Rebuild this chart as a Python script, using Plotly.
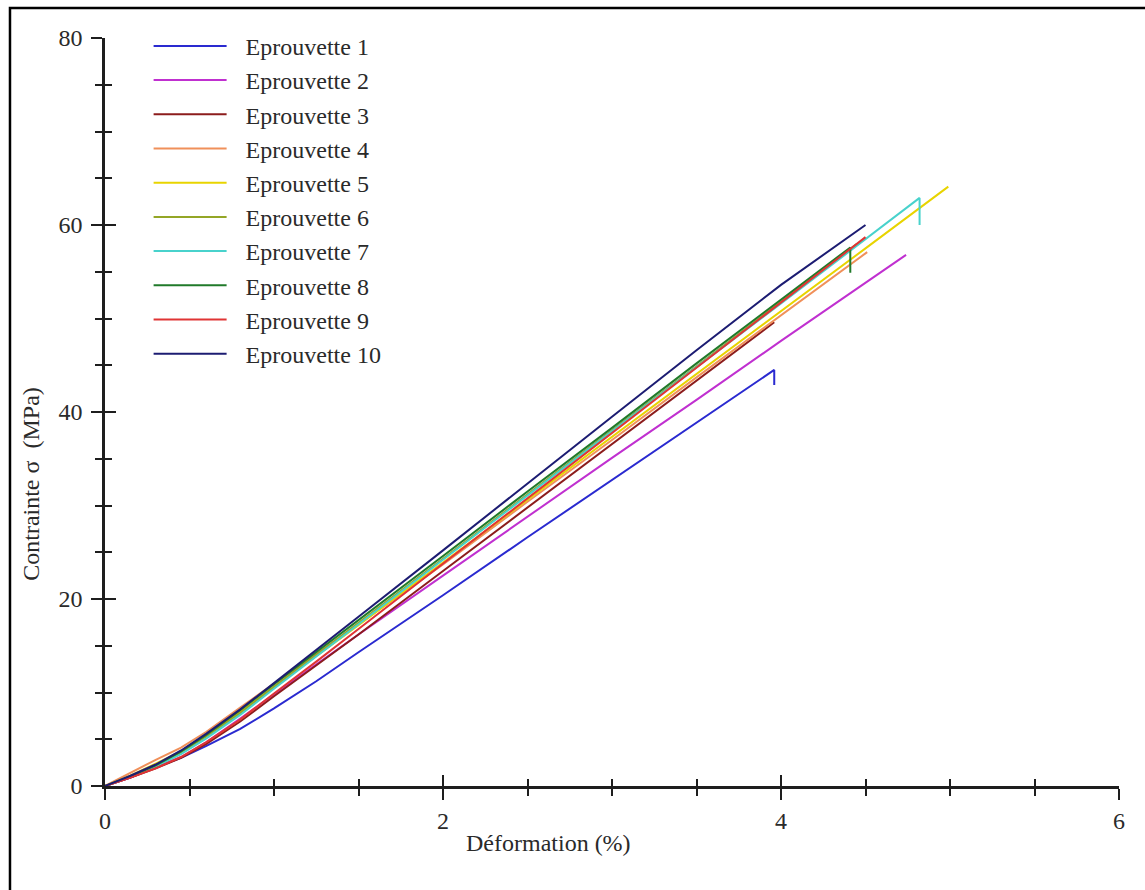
import plotly.graph_objects as go

# ---------------- data ----------------
names = ["Eprouvette 1", "Eprouvette 2", "Eprouvette 3", "Eprouvette 4", "Eprouvette 5",
         "Eprouvette 6", "Eprouvette 7", "Eprouvette 8", "Eprouvette 9", "Eprouvette 10"]

colors = ["#2a2ad0", "#c030d0", "#8c1c1c", "#f0905a", "#e8d400",
          "#94a626", "#48d2cc", "#207a2a", "#e03434", "#1c1c72"]

strain_1 = [0, 0.15, 0.3, 0.45, 0.6, 0.8, 1.0, 1.25, 1.5, 2.0, 2.5, 3.0, 3.5, 3.96, 3.96]
stress_1 = [0, 0.9, 2.0, 3.0, 4.3, 6.1, 8.3, 11.2, 14.3, 20.4, 26.6, 32.7, 38.8, 44.5, 42.9]

strain_2 = [0, 0.15, 0.3, 0.45, 0.6, 0.8, 1.0, 1.25, 1.5, 2.0, 2.5, 3.0, 3.5, 4.0, 4.74]
stress_2 = [0, 0.9, 2.0, 3.1, 4.7, 7.2, 9.8, 13.0, 16.2, 22.5, 28.8, 35.1, 41.3, 47.6, 56.8]

strain_3 = [0, 0.15, 0.3, 0.45, 0.6, 0.8, 1.0, 1.25, 1.5, 2.0, 2.5, 3.0, 3.5, 3.96]
stress_3 = [0, 0.9, 1.9, 3.0, 4.5, 6.9, 9.6, 12.9, 16.2, 23.0, 29.8, 36.6, 43.4, 49.6]

strain_4 = [0, 0.15, 0.3, 0.45, 0.6, 0.8, 1.0, 1.25, 1.5, 2.0, 2.5, 3.0, 3.5, 4.0, 4.51]
stress_4 = [0, 1.4, 2.8, 4.1, 5.8, 8.4, 10.9, 14.1, 17.3, 23.7, 30.4, 37.0, 43.7, 50.3, 57.1]

strain_5 = [0, 0.15, 0.3, 0.45, 0.6, 0.8, 1.0, 1.25, 1.5, 2.0, 2.5, 3.0, 3.5, 4.0, 4.5, 4.99]
stress_5 = [0, 1.1, 2.4, 3.7, 5.4, 7.9, 10.6, 13.9, 17.2, 23.9, 30.6, 37.3, 44.1, 50.8, 57.5, 64.1]

strain_6 = [0, 0.15, 0.3, 0.45, 0.6, 0.8, 1.0, 1.25, 1.5, 2.0, 2.5, 3.0, 3.5, 4.0, 4.45]
stress_6 = [0, 1.0, 2.2, 3.6, 5.3, 7.8, 10.6, 14.0, 17.4, 24.3, 31.2, 38.0, 44.9, 51.8, 58.0]

strain_7 = [0, 0.15, 0.3, 0.45, 0.6, 0.8, 1.0, 1.25, 1.5, 2.0, 2.5, 3.0, 3.5, 4.0, 4.5, 4.82, 4.82]
stress_7 = [0, 1.0, 2.1, 3.4, 5.1, 7.6, 10.4, 13.8, 17.3, 24.2, 31.1, 37.9, 44.8, 51.6, 58.5, 62.9, 60.0]

strain_8 = [0, 0.15, 0.3, 0.45, 0.6, 0.8, 1.0, 1.25, 1.5, 2.0, 2.5, 3.0, 3.5, 4.0, 4.41, 4.41]
stress_8 = [0, 1.0, 2.2, 3.7, 5.5, 8.1, 10.9, 14.3, 17.8, 24.6, 31.5, 38.3, 45.2, 52.0, 57.6, 54.9]

strain_9 = [0, 0.15, 0.3, 0.45, 0.6, 0.8, 1.0, 1.25, 1.5, 2.0, 2.5, 3.0, 3.5, 4.0, 4.5]
stress_9 = [0, 0.9, 1.9, 3.1, 4.7, 7.1, 9.9, 13.3, 16.8, 23.8, 30.8, 37.8, 44.7, 51.7, 58.7]

strain_10 = [0, 0.15, 0.3, 0.45, 0.6, 0.8, 1.0, 1.25, 1.5, 2.0, 2.5, 3.0, 3.5, 4.0, 4.5]
stress_10 = [0, 1.1, 2.3, 3.8, 5.6, 8.2, 11.0, 14.5, 18.1, 25.2, 32.4, 39.5, 46.6, 53.6, 60.0]

strains = [strain_1, strain_2, strain_3, strain_4, strain_5,
           strain_6, strain_7, strain_8, strain_9, strain_10]
stresses = [stress_1, stress_2, stress_3, stress_4, stress_5,
            stress_6, stress_7, stress_8, stress_9, stress_10]

x_ticks = [0, 2, 4, 6]
y_ticks = [0, 20, 40, 60, 80]

# ---------------- figure ----------------
FONT = "Liberation Serif, Times New Roman, serif"
TXT = "#2a2a2a"
AX = "#1e1e1e"

fig = go.Figure()
for name, col, xs, ys in zip(names, colors, strains, stresses):
    fig.add_trace(go.Scatter(x=xs, y=ys, mode="lines", name=name,
                             line=dict(color=col, width=2)))

# invisible helper trace so that the overlay axes (inner tick halves) are drawn
fig.add_trace(go.Scatter(x=[None], y=[None], xaxis="x2", yaxis="y2",
                         showlegend=False, hoverinfo="skip"))

common = dict(showgrid=False, zeroline=False, linecolor=AX, linewidth=2.5,
              tickcolor=AX, tickwidth=2)
inner = {k: v for k, v in common.items() if k not in ("linecolor", "linewidth")}

fig.update_layout(
    width=1145, height=890,
    margin=dict(l=105, r=26, t=38, b=104),
    paper_bgcolor="white", plot_bgcolor="white",
    font=dict(family=FONT, size=24, color=TXT),
    showlegend=True,
    legend=dict(x=0.043, y=1.019, xanchor="left", yanchor="top",
                bgcolor="rgba(0,0,0,0)", borderwidth=0,
                font=dict(family=FONT, size=24, color=TXT),
                itemwidth=87, tracegroupgap=0),
    xaxis=dict(range=[0, 6], tickvals=x_ticks, ticktext=[str(v) for v in x_ticks],
               showline=True, ticks="outside", ticklen=11,
               minor=dict(dtick=0.5, ticks="outside", ticklen=7, tickwidth=1.6, tickcolor=AX),
               ticklabelstandoff=0, tickfont=dict(size=24, color=TXT, family=FONT),
               **common),
    yaxis=dict(range=[0, 80], tickvals=y_ticks, ticktext=[str(v) for v in y_ticks],
               showline=True, ticks="outside", ticklen=11,
               minor=dict(dtick=5, ticks="outside", ticklen=7, tickwidth=1.6, tickcolor=AX),
               ticklabelstandoff=4, tickfont=dict(size=24, color=TXT, family=FONT),
               **common),
    xaxis2=dict(range=[0, 6], overlaying="x", anchor="y", side="bottom",
                tickvals=x_ticks, showticklabels=False, showline=False,
                ticks="inside", ticklen=11,
                minor=dict(dtick=0.5, ticks="inside", ticklen=7, tickwidth=1.6, tickcolor=AX),
                **inner),
    yaxis2=dict(range=[0, 80], overlaying="y", anchor="x", side="left",
                tickvals=y_ticks, showticklabels=False, showline=False,
                ticks="inside", ticklen=11,
                minor=dict(dtick=5, ticks="inside", ticklen=7, tickwidth=1.6, tickcolor=AX),
                **inner),
    annotations=[
        dict(text="Déformation (%)", xref="paper", yref="paper",
             x=0.437, y=-0.076, xanchor="center", yanchor="middle",
             showarrow=False, font=dict(family=FONT, size=24, color=TXT)),
        dict(text="Contrainte σ  (MPa)", xref="paper", yref="paper",
             x=-0.073, y=0.404, xanchor="center", yanchor="middle", textangle=-90,
             showarrow=False, font=dict(family=FONT, size=24, color=TXT)),
    ],
    shapes=[dict(type="rect", xref="paper", yref="paper",
                 x0=-0.0937, x1=1.06, y0=-0.16, y1=1.0401,
                 line=dict(color="black", width=2.5), fillcolor="rgba(0,0,0,0)")],
)

post = """
var gd = document.getElementById('{plot_id}');
function fixLegend(){
  gd.querySelectorAll('.legendlines path').forEach(function(p){ p.setAttribute('d','M5,0h73'); });
}
fixLegend();
gd.on('plotly_afterplot', fixLegend);
"""

fig.write_html("out.html", post_script=post)
